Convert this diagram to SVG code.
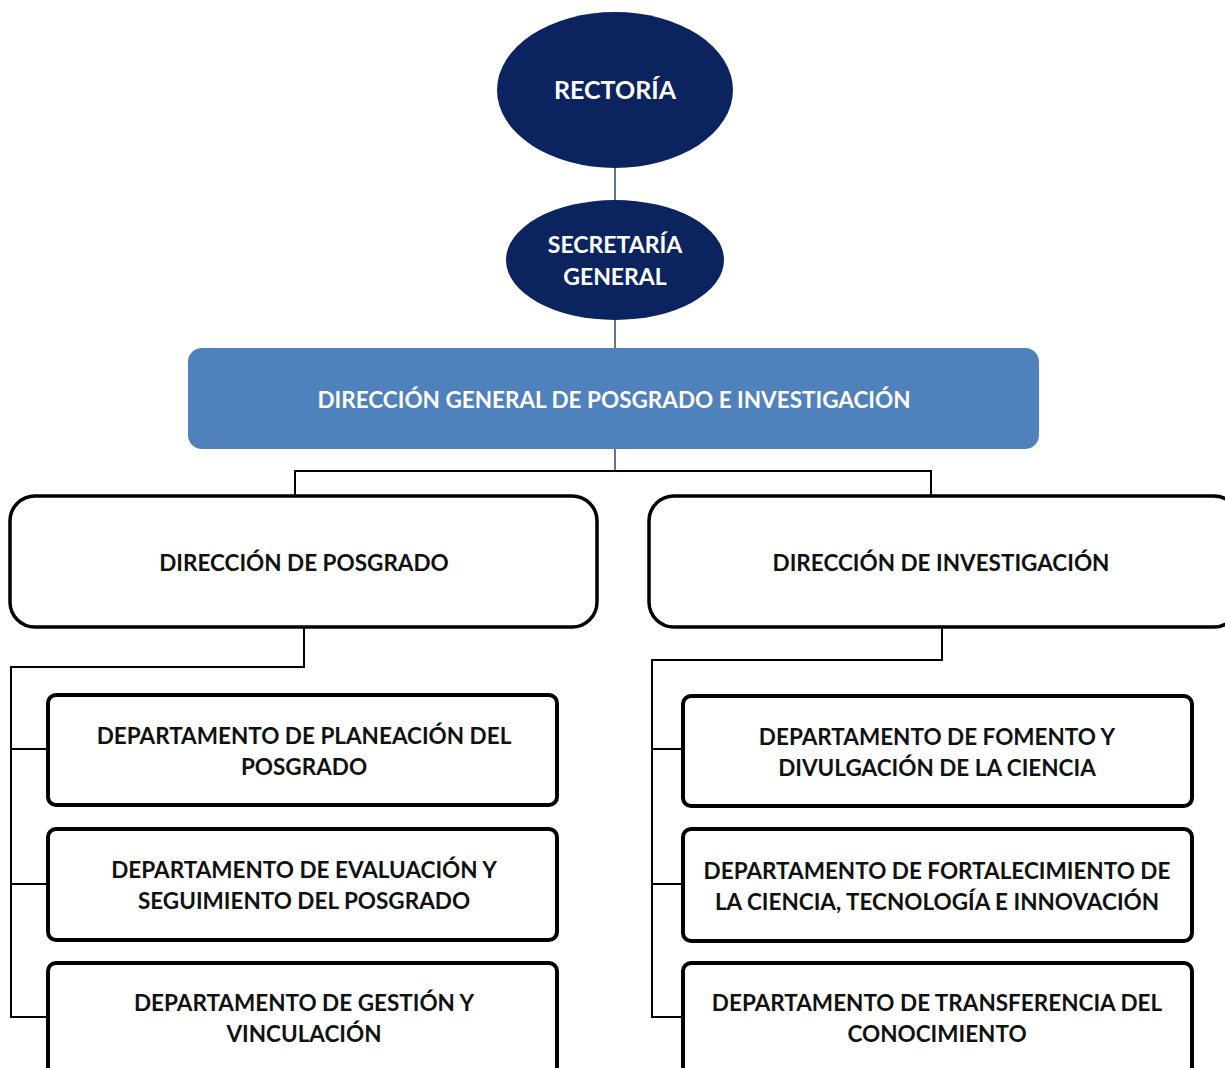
<svg xmlns="http://www.w3.org/2000/svg" width="1225" height="1068" viewBox="0 0 1225 1068">
  <style>
    .t { font-family: Lato, "Open Sans", "Liberation Sans", sans-serif; font-weight: 700; text-anchor: middle; }
    .w { fill: #ffffff; }
    .k { fill: #111111; }
    .top { fill: #0b2460; }
    .dir { fill: #ffffff; stroke: #000000; stroke-width: 3.5; }
    .dep { fill: #ffffff; stroke: #000000; stroke-width: 4; }
    .lnb { fill: none; stroke: #5f7696; stroke-width: 2; }
    .lnk { fill: none; stroke: #000000; stroke-width: 2; }
    .s { font-size: 22.5px; }
  </style>
  <rect width="1225" height="1068" fill="#ffffff"/>

  <g id="connectors">
    <line class="lnb" x1="615" y1="166" x2="615" y2="202"/>
    <line class="lnb" x1="615" y1="318" x2="615" y2="350"/>
    <line class="lnb" x1="615" y1="448" x2="615" y2="471"/>
    <polyline class="lnk" points="295,496 295,471 931,471 931,496"/>
    <polyline class="lnk" points="304,627 304,667 11,667 11,1017 48,1017"/>
    <line class="lnk" x1="11" y1="749" x2="48" y2="749"/>
    <line class="lnk" x1="11" y1="884" x2="48" y2="884"/>
    <polyline class="lnk" points="942,627 942,660 652,660 652,1017 683,1017"/>
    <line class="lnk" x1="652" y1="749" x2="683" y2="749"/>
    <line class="lnk" x1="652" y1="884" x2="683" y2="884"/>
  </g>

  <g id="rectoria">
    <ellipse class="top" cx="615" cy="90" rx="118" ry="78"/>
    <text class="t w" x="615" y="99" font-size="25">RECTORÍA</text>
  </g>

  <g id="secretaria">
    <ellipse class="top" cx="615" cy="260" rx="109" ry="60"/>
    <text class="t w" x="615" y="253" font-size="23">SECRETARÍA</text>
    <text class="t w" x="615" y="285" font-size="23">GENERAL</text>
  </g>

  <g id="direccion-general">
    <rect x="188" y="348" width="851" height="101" rx="14" fill="#4f81bd"/>
    <text class="t w s" x="614" y="408">DIRECCIÓN GENERAL DE POSGRADO E INVESTIGACIÓN</text>
  </g>

  <g id="direccion-posgrado">
    <rect class="dir" x="10" y="496" width="587" height="131" rx="25"/>
    <text class="t k s" x="304" y="571">DIRECCIÓN DE POSGRADO</text>
  </g>

  <g id="direccion-investigacion">
    <rect class="dir" x="649" y="496" width="590" height="131" rx="25"/>
    <text class="t k s" x="941" y="571">DIRECCIÓN DE INVESTIGACIÓN</text>
  </g>

  <g id="dep-planeacion">
    <rect class="dep" x="48" y="695" width="509" height="110" rx="8"/>
    <text class="t k s" x="304" y="744">DEPARTAMENTO DE PLANEACIÓN DEL</text>
    <text class="t k s" x="304" y="775">POSGRADO</text>
  </g>

  <g id="dep-evaluacion">
    <rect class="dep" x="48" y="829" width="509" height="111" rx="8"/>
    <text class="t k s" x="304" y="878">DEPARTAMENTO DE EVALUACIÓN Y</text>
    <text class="t k s" x="304" y="909">SEGUIMIENTO DEL POSGRADO</text>
  </g>

  <g id="dep-gestion">
    <rect class="dep" x="48" y="963" width="509" height="112" rx="8"/>
    <text class="t k s" x="304" y="1011">DEPARTAMENTO DE GESTIÓN Y</text>
    <text class="t k s" x="304" y="1042">VINCULACIÓN</text>
  </g>

  <g id="dep-fomento">
    <rect class="dep" x="683" y="696" width="509" height="110" rx="8"/>
    <text class="t k s" x="937" y="745">DEPARTAMENTO DE FOMENTO Y</text>
    <text class="t k s" x="937" y="776">DIVULGACIÓN DE LA CIENCIA</text>
  </g>

  <g id="dep-fortalecimiento">
    <rect class="dep" x="683" y="829" width="509" height="112" rx="8"/>
    <text class="t k s" x="937" y="879">DEPARTAMENTO DE FORTALECIMIENTO DE</text>
    <text class="t k s" x="937" y="910">LA CIENCIA, TECNOLOGÍA E INNOVACIÓN</text>
  </g>

  <g id="dep-transferencia">
    <rect class="dep" x="683" y="963" width="509" height="112" rx="8"/>
    <text class="t k s" x="937" y="1011">DEPARTAMENTO DE TRANSFERENCIA DEL</text>
    <text class="t k s" x="937" y="1042">CONOCIMIENTO</text>
  </g>
</svg>
